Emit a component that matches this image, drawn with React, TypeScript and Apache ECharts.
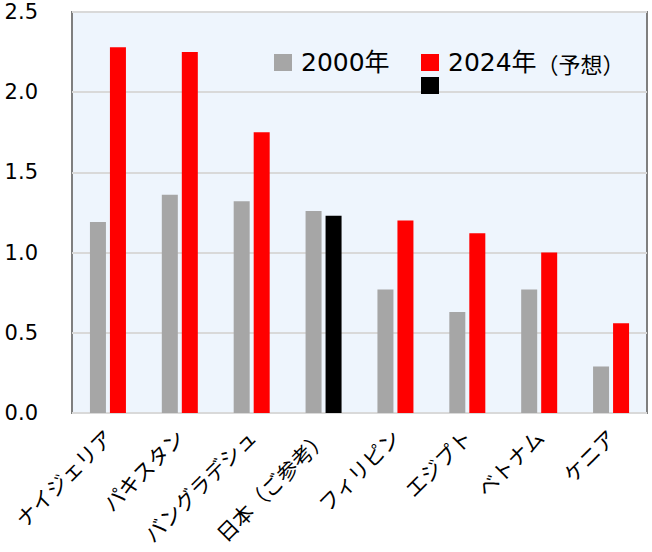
import React, { useEffect, useRef } from "react";
import * as echarts from "echarts";

const categories = ["ナイジェリア", "パキスタン", "バングラデシュ", "日本（ご参考）", "フィリピン", "エジプト", "ベトナム", "ケニア"];
const values2000 = [1.19, 1.36, 1.32, 1.26, 0.77, 0.63, 0.77, 0.29];
const values2024 = [2.28, 2.25, 1.75, 1.23, 1.2, 1.12, 1.0, 0.56];
const highlightCategory = "日本（ご参考）";
const seriesNames = ["2000年", "2024年（予想）"];

const FONT = "'Noto Sans CJK JP', 'Noto Sans', sans-serif";
const NUM_FONT = "'DejaVu Sans', 'Noto Sans CJK JP', sans-serif";

export default function App() {
  const ref = useRef<HTMLDivElement>(null);
  useEffect(() => {
    document.body.style.margin = "0";
    const chart = echarts.init(ref.current!, null, { renderer: "svg" });
    const data2024 = values2024.map((v, i) =>
      categories[i] === highlightCategory ? { value: v, itemStyle: { color: "#000000" } } : v
    );
    const legendText = {
      fontFamily: NUM_FONT,
      fontSize: 25,
      color: "#000",
      padding: [0, 0, 0, 4],
      rich: { s: { fontSize: 22, fontFamily: FONT, color: "#000" } },
    };
    chart.setOption({
      animation: false,
      backgroundColor: "#ffffff",
      textStyle: { fontFamily: FONT },
      grid: {
        left: 72,
        right: 5,
        top: 12,
        bottom: 139,
        show: true,
        backgroundColor: "#eef5fd",
        borderColor: "#7f7f7f",
        borderWidth: 2,
        containLabel: false,
      },
      legend: [
        {
          left: 274,
          top: 50,
          padding: 0,
          itemWidth: 18,
          itemHeight: 17,
          icon: "rect",
          data: [seriesNames[0]],
          textStyle: legendText,
        },
        {
          left: 421,
          top: 50,
          padding: 0,
          itemWidth: 18,
          itemHeight: 17,
          icon: "rect",
          data: [seriesNames[1]],
          formatter: () => "2024年{s|（予想）}",
          textStyle: legendText,
        },
      ],
      xAxis: {
        type: "category",
        data: categories,
        axisTick: { show: false },
        axisLine: { show: false },
        axisLabel: {
          rotate: 45,
          interval: 0,
          margin: 20,
          fontSize: 21,
          fontFamily: FONT,
          color: "#000",
        },
      },
      yAxis: {
        type: "value",
        min: 0,
        max: 2.5,
        interval: 0.5,
        axisLine: { show: false },
        axisTick: { show: false },
        axisLabel: {
          margin: 34,
          fontSize: 21,
          lineHeight: 20,
          padding: [4, 0, 0, 0],
          fontFamily: NUM_FONT,
          color: "#000",
          formatter: (v: number) => v.toFixed(1),
        },
        splitLine: { lineStyle: { color: "#d9d9d9", width: 2 } },
      },
      series: [
        {
          name: seriesNames[0],
          type: "bar",
          data: values2000,
          barWidth: 16,
          barGap: "25%",
          itemStyle: { color: "#a6a6a6" },
        },
        {
          name: seriesNames[1],
          type: "bar",
          data: data2024,
          barWidth: 16,
          barGap: "25%",
          itemStyle: { color: "#ff0000" },
        },
      ],
      graphic: [
        {
          type: "rect",
          left: 421,
          top: 77,
          z: 100,
          shape: { width: 18, height: 17 },
          style: { fill: "#000000" },
        },
      ],
    });
    return () => chart.dispose();
  }, []);
  return <div ref={ref} style={{ position: "absolute", left: 0, top: 0, width: 652, height: 552 }} />;
}
